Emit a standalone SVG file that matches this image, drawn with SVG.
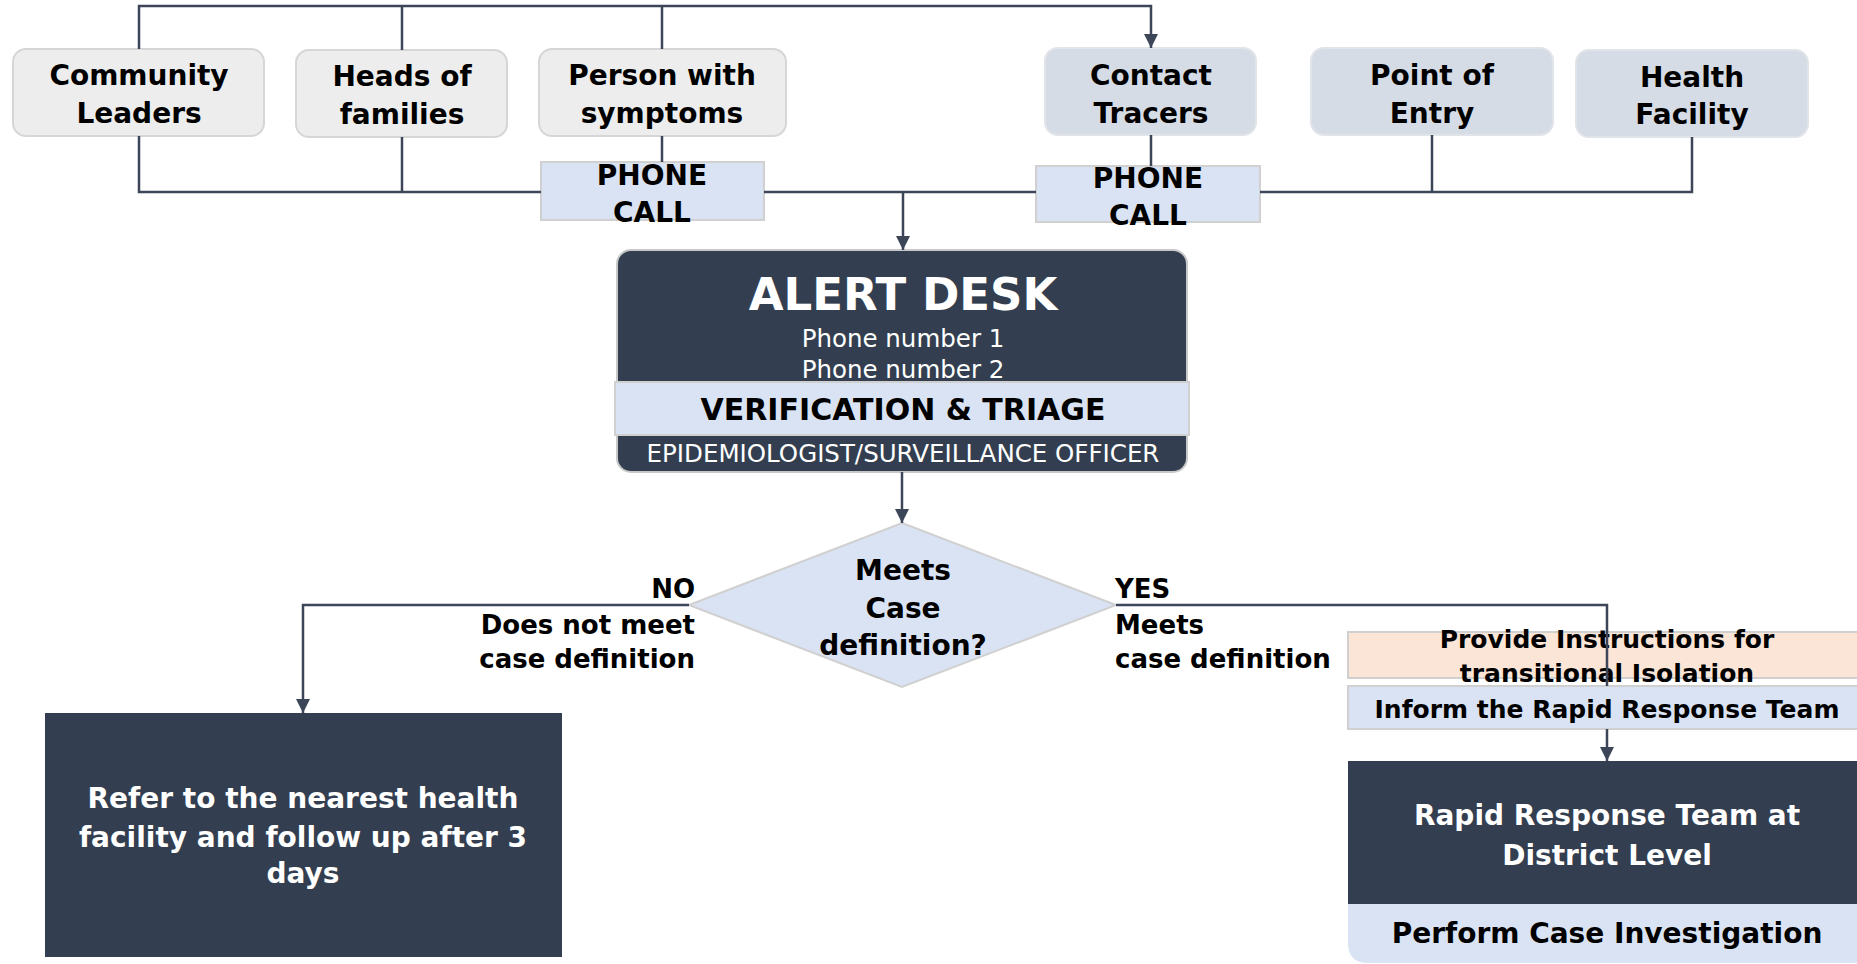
<svg xmlns="http://www.w3.org/2000/svg" width="1857" height="964" viewBox="0 0 1857 964">
<defs>
<style>
text{font-family:"DejaVu Sans","Liberation Sans",sans-serif;text-anchor:middle}
.b{font-weight:bold}
.blk{fill:#000}
.wht{fill:#fff}
.src{fill:#ededed;stroke:#d6d6d6;stroke-width:2}
.src2{fill:#d6dce5;stroke:#e1e4e9;stroke-width:2}
.lb{fill:#dae3f3;stroke:#d0d0d0;stroke-width:2}
.dark{fill:#333f50}
.conn path{fill:none;stroke:#3c4658;stroke-width:2.5}
</style>
<marker id="arr" markerWidth="14" markerHeight="14" refX="14" refY="7" orient="auto" markerUnits="userSpaceOnUse">
<path d="M0,0 L14,7 L0,14 z" fill="#3c4658"/>
</marker>
</defs>
<rect width="1857" height="964" fill="#fff"/>

<g id="community-leaders">
<rect class="src" x="13" y="49" width="251" height="87" rx="13"/>
<text class="b blk" x="139" y="85" font-size="28">Community</text>
<text class="b blk" x="139" y="123" font-size="28">Leaders</text>
</g>
<g id="heads-of-families">
<rect class="src" x="296" y="50" width="211" height="87" rx="13"/>
<text class="b blk" x="402" y="86" font-size="28">Heads of</text>
<text class="b blk" x="402" y="124" font-size="28">families</text>
</g>
<g id="person-with-symptoms">
<rect class="src" x="539" y="49" width="247" height="87" rx="13"/>
<text class="b blk" x="662" y="85" font-size="28">Person with</text>
<text class="b blk" x="662" y="123" font-size="28">symptoms</text>
</g>
<g id="contact-tracers">
<rect class="src2" x="1045" y="48" width="211" height="87" rx="13"/>
<text class="b blk" x="1151" y="85" font-size="28">Contact</text>
<text class="b blk" x="1151" y="123" font-size="28">Tracers</text>
</g>
<g id="point-of-entry">
<rect class="src2" x="1311" y="48" width="242" height="87" rx="13"/>
<text class="b blk" x="1432" y="85" font-size="28">Point of</text>
<text class="b blk" x="1432" y="123" font-size="28">Entry</text>
</g>
<g id="health-facility">
<rect class="src2" x="1576" y="50" width="232" height="87" rx="13"/>
<text class="b blk" x="1692" y="87" font-size="28">Health</text>
<text class="b blk" x="1692" y="124" font-size="28">Facility</text>
</g>

<g id="phone-call-1">
<rect class="lb" x="541" y="162" width="223" height="58"/>
<text class="b blk" x="652" y="185" font-size="28">PHONE</text>
<text class="b blk" x="652" y="222" font-size="28">CALL</text>
</g>
<g id="phone-call-2">
<rect class="lb" x="1036" y="166" width="224" height="56"/>
<text class="b blk" x="1148" y="188" font-size="28">PHONE</text>
<text class="b blk" x="1148" y="225" font-size="28">CALL</text>
</g>

<g id="alert-desk">
<rect x="617" y="250" width="570" height="222" rx="14" fill="#333f50" stroke="#c8c8c8" stroke-width="2"/>
<text class="b wht" x="903" y="310" font-size="45">ALERT DESK</text>
<text class="wht" x="903" y="347" font-size="24.5">Phone number 1</text>
<text class="wht" x="903" y="378" font-size="24.5">Phone number 2</text>
<rect class="lb" x="615" y="382" width="574" height="53"/>
<text class="b blk" x="903" y="420" font-size="30">VERIFICATION &amp; TRIAGE</text>
<text class="wht" x="903" y="462" font-size="24.5">EPIDEMIOLOGIST/SURVEILLANCE OFFICER</text>
</g>

<g id="decision">
<polygon class="lb" points="902,523 1116,605 902,687 689,605"/>
<text class="b blk" x="903" y="580" font-size="28">Meets</text>
<text class="b blk" x="903" y="618" font-size="28">Case</text>
<text class="b blk" x="903" y="655" font-size="28">definition?</text>
</g>

<g id="refer">
<rect class="dark" x="45" y="713" width="517" height="244"/>
<text class="b wht" x="303" y="808" font-size="28">Refer to the nearest health</text>
<text class="b wht" x="303" y="847" font-size="28">facility and follow up after 3</text>
<text class="b wht" x="303" y="883" font-size="28">days</text>
</g>

<g id="isolation">
<rect x="1348" y="632" width="520" height="46" fill="#fbe5d6" stroke="#d0d0d0" stroke-width="2"/>
<text class="b blk" x="1607" y="648" font-size="25">Provide Instructions for</text>
<text class="b blk" x="1607" y="682" font-size="25">transitional Isolation</text>
</g>
<g id="inform-rrt">
<rect class="lb" x="1348" y="686" width="520" height="43"/>
<text class="b blk" x="1607" y="718" font-size="25">Inform the Rapid Response Team</text>
</g>
<g id="rrt">
<rect class="dark" x="1348" y="761" width="520" height="143"/>
<text class="b wht" x="1607" y="825" font-size="28">Rapid Response Team at</text>
<text class="b wht" x="1607" y="865" font-size="28">District Level</text>
<path d="M1348 904 H1868 V963 H1368 Q1348 963 1348 943 Z" fill="#dae3f3"/>
<text class="b blk" x="1607" y="943" font-size="28">Perform Case Investigation</text>
</g>

<g id="labels">
<text class="b blk" x="695" y="598" font-size="26" style="text-anchor:end">NO</text>
<text class="b blk" x="695" y="634" font-size="26" style="text-anchor:end">Does not meet</text>
<text class="b blk" x="695" y="668" font-size="26" style="text-anchor:end">case definition</text>
<text class="b blk" x="1115" y="598" font-size="26" style="text-anchor:start">YES</text>
<text class="b blk" x="1115" y="634" font-size="26" style="text-anchor:start">Meets</text>
<text class="b blk" x="1115" y="668" font-size="26" style="text-anchor:start">case definition</text>
</g>

<g id="connectors" class="conn">
<path d="M139 49 V6 H1151 V48" marker-end="url(#arr)"/>
<path d="M402 50 V6"/>
<path d="M662 49 V6"/>
<path d="M139 136 V192 H541"/>
<path d="M402 137 V192"/>
<path d="M662 136 V162"/>
<path d="M764 192 H1036"/>
<path d="M1151 135 V166"/>
<path d="M1260 192 H1692 V137"/>
<path d="M1432 135 V192"/>
<path d="M903 192 V250" marker-end="url(#arr)"/>
<path d="M902 472 V523" marker-end="url(#arr)"/>
<path d="M689 605 H303 V713" marker-end="url(#arr)"/>
<path d="M1116 605 H1607 V686"/>
<path d="M1607 729 V761" marker-end="url(#arr)"/>
</g>
</svg>
